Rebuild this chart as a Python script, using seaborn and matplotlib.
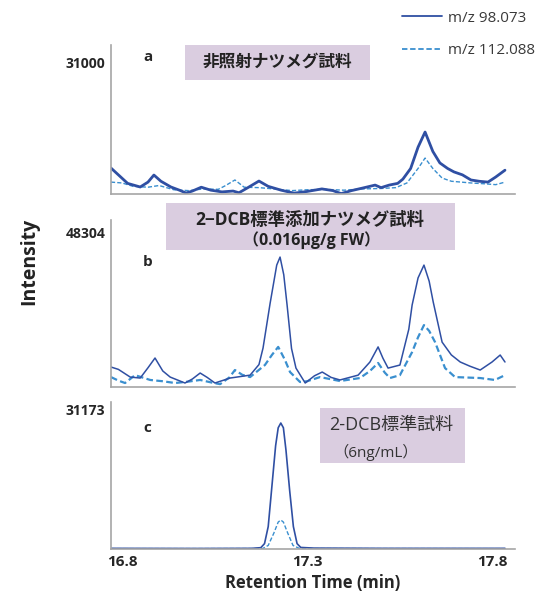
import matplotlib
matplotlib.use("Agg")
import matplotlib.pyplot as plt
from matplotlib.lines import Line2D
from matplotlib.patches import Rectangle
import seaborn as sns
import pandas as pd

# ---- data (time in min, intensity) ----
a_t_98 = [16.770, 16.790, 16.815, 16.849, 16.870, 16.886, 16.905, 16.932, 16.955, 16.973,
          16.990, 17.014, 17.040, 17.070, 17.100, 17.116, 17.140, 17.170, 17.195, 17.230,
          17.265, 17.300, 17.340, 17.370, 17.392, 17.420, 17.450, 17.484, 17.500, 17.522,
          17.545, 17.559, 17.580, 17.600, 17.619, 17.640, 17.659, 17.680, 17.697, 17.720,
          17.743, 17.765, 17.789, 17.810, 17.835]
a_i_98 = [6100, 4500, 2500, 1650, 2800, 4460, 3000, 1650, 900, 230,
          700, 1600, 900, 500, 700, 300, 1500, 3050, 1800, 900,
          200, 600, 1200, 800, 100, 800, 1400, 2100, 1500, 2100,
          2500, 3500, 6000, 11000, 14560, 10000, 7300, 6000, 5200, 4500,
          3300, 3000, 2800, 4000, 5600]
a_t_112 = [16.770, 16.800, 16.830, 16.870, 16.900, 16.940, 16.980, 17.020, 17.060, 17.080,
           17.105, 17.130, 17.170, 17.210, 17.260, 17.300, 17.350, 17.400, 17.450, 17.500,
           17.540, 17.570, 17.600, 17.619, 17.640, 17.665, 17.690, 17.743, 17.780, 17.810,
           17.835]
a_i_112 = [2800, 2600, 1800, 1600, 2000, 1000, 800, 1200, 1100, 2000,
           3300, 1600, 1500, 1200, 800, 1000, 1100, 900, 1200, 1300,
           1500, 2600, 6000, 8450, 6000, 3750, 3000, 2600, 2400, 2200,
           2800]

b_t_98 = [16.770, 16.790, 16.822, 16.849, 16.870, 16.889, 16.910, 16.930, 16.970, 16.990,
          17.011, 17.030, 17.051, 17.092, 17.146, 17.170, 17.181, 17.200, 17.218, 17.227,
          17.237, 17.246, 17.258, 17.270, 17.295, 17.320, 17.341, 17.365, 17.389, 17.438,
          17.470, 17.492, 17.505, 17.519, 17.551, 17.575, 17.584, 17.600, 17.616, 17.630,
          17.641, 17.665, 17.690, 17.714, 17.740, 17.768, 17.800, 17.822, 17.835]
b_i_98 = [6230, 5500, 3100, 2800, 6000, 9040, 5000, 3100, 1250, 2500,
          4360, 3000, 1250, 2800, 3700, 7000, 12150, 26000, 38000, 40500,
          35000, 25550, 12000, 5900, 1250, 3500, 4670, 3000, 2200, 3700,
          7800, 12500, 9000, 5900, 6850, 18000, 25550, 34000, 38000, 33000,
          26500, 14000, 10000, 7800, 6500, 5300, 7800, 9970, 7800]
b_t_112 = [16.770, 16.790, 16.808, 16.835, 16.876, 16.910, 16.943, 16.980, 17.011, 17.050,
           17.065, 17.090, 17.105, 17.125, 17.146, 17.186, 17.205, 17.222, 17.240, 17.254,
           17.281, 17.300, 17.335, 17.389, 17.443, 17.470, 17.492, 17.510, 17.524, 17.551,
           17.584, 17.600, 17.616, 17.630, 17.646, 17.673, 17.700, 17.768, 17.808, 17.835]
b_i_112 = [3100, 2000, 1250, 3700, 2200, 1800, 1250, 1700, 2200, 1200,
           900, 3000, 5300, 3800, 3100, 6850, 10000, 12500, 8500, 4670,
           1560, 1800, 3100, 1870, 2800, 5000, 7500, 4500, 2800, 3700,
           10900, 15500, 19300, 17500, 14000, 5900, 3100, 2800, 2200, 3700]

c_t_98 = [16.770, 17.000, 17.150, 17.175, 17.185, 17.195, 17.205, 17.215, 17.222, 17.229,
          17.236, 17.243, 17.253, 17.263, 17.273, 17.283, 17.320, 17.500, 17.835]
c_i_98 = [150, 120, 150, 300, 1200, 5000, 14000, 23000, 27000, 28050,
          27000, 22000, 13000, 5000, 1200, 350, 200, 150, 150]
c_t_112 = [16.770, 17.180, 17.195, 17.210, 17.222, 17.229, 17.236, 17.248, 17.262, 17.280, 17.835]
c_i_112 = [80, 100, 800, 3500, 6000, 6460, 6000, 3500, 800, 100, 80]

panel_letters = ["a", "b", "c"]
panel_max = [31000, 48304, 31173]
title_a = "非照射ナツメグ試料"
title_b = ["2−DCB標準添加ナツメグ試料", "（0.016μg/g FW）"]
title_c = ["2-DCB標準試料", "（6ng/mL）"]
x_ticks = [16.8, 17.3, 17.8]
series_names = ["m/z 98.073", "m/z 112.088"]

# ---- styling ----
sns.set_theme(style="white")
plt.rcParams["font.family"] = ["Open Sans", "Noto Sans CJK JP", "DejaVu Sans"]

c98 = "#2f4fa3"
c112 = "#3a8fcf"
box_col = "#dacde0"
spine_col = "#a6a6a6"

fig = plt.figure(figsize=(5.38, 6.02), dpi=100)
ax_rects = [
    [0.2063, 0.6777, 0.7509, 0.2475],
    [0.2063, 0.3571, 0.7509, 0.2774],
    [0.2063, 0.0880, 0.7509, 0.2442],
]
ytop_factor = [149 / 132, 167 / 155, 147 / 140]

data = [
    (a_t_98, a_i_98, a_t_112, a_i_112),
    (b_t_98, b_i_98, b_t_112, b_i_112),
    (c_t_98, c_i_98, c_t_112, c_i_112),
]
lw98 = [2.0, 1.1, 1.2]
lw112 = [1.0, 1.6, 1.0]
letter_y = [0.92, 0.749, 0.823]

axes = []
for k in range(3):
    ax = fig.add_axes(ax_rects[k])
    t98, i98, t112, i112 = data[k]
    df98 = pd.DataFrame({"time": t98, "intensity": i98})
    df112 = pd.DataFrame({"time": t112, "intensity": i112})
    sns.lineplot(data=df112, x="time", y="intensity", ax=ax, color=c112,
                 linewidth=lw112[k], linestyle=(0, (3, 1.5)))
    sns.lineplot(data=df98, x="time", y="intensity", ax=ax, color=c98,
                 linewidth=lw98[k])
    ax.set_xlim(16.770, 17.862)
    ax.set_ylim(0, panel_max[k] * ytop_factor[k])
    ax.set_yticks([panel_max[k]])
    ax.set_yticklabels([str(panel_max[k])], fontsize=10, fontweight="bold")
    ax.tick_params(axis="y", length=0, pad=4)
    if k == 2:
        ax.set_xticks(x_ticks)
        ax.set_xticklabels([str(v) for v in x_ticks], fontsize=11, fontweight="bold")
        ax.tick_params(axis="x", length=0, pad=4)
        ax.set_xlabel("Retention Time (min)", fontsize=12, fontweight="bold", labelpad=4)
    else:
        ax.set_xticks([])
        ax.set_xlabel("")
    ax.set_ylabel("")
    for s in ["top", "right"]:
        ax.spines[s].set_visible(False)
    for s in ["left", "bottom"]:
        ax.spines[s].set_color(spine_col)
        ax.spines[s].set_linewidth(1.2)
    ax.text(0.079, letter_y[k], panel_letters[k], transform=ax.transAxes,
            fontsize=11, fontweight="bold", va="center")
    axes.append(ax)

# sample label boxes
ax = axes[0]
ax.add_patch(Rectangle((0.183, 0.765), 0.458, 0.235, transform=ax.transAxes,
                       fc=box_col, ec="none", clip_on=False, zorder=3))
ax.text(0.413, 0.886, title_a, transform=ax.transAxes, ha="center", va="center",
        fontsize=12, fontweight="bold", color="#222222", zorder=4)

ax = axes[1]
ax.add_patch(Rectangle((0.136, 0.820), 0.715, 0.282, transform=ax.transAxes,
                       fc=box_col, ec="none", clip_on=False, zorder=3))
ax.text(0.493, 1.0, title_b[0], transform=ax.transAxes, ha="center", va="center",
        fontsize=12.5, fontweight="bold", color="#222222", zorder=4)
ax.text(0.497, 0.880, title_b[1], transform=ax.transAxes, ha="center", va="center",
        fontsize=11.5, fontweight="bold", color="#222222", zorder=4)

ax = axes[2]
ax.add_patch(Rectangle((0.517, 0.585), 0.359, 0.374, transform=ax.transAxes,
                       fc=box_col, ec="none", clip_on=False, zorder=3))
ax.text(0.694, 0.844, title_c[0], transform=ax.transAxes, ha="center", va="center",
        fontsize=13, color="#333333", zorder=4)
ax.text(0.656, 0.660, title_c[1], transform=ax.transAxes, ha="center", va="center",
        fontsize=11, color="#333333", zorder=4)

fig.text(0.055, 0.565, "Intensity", rotation=90, ha="center", va="center",
         fontsize=14, fontweight="bold", color="#222222")

handles = [Line2D([], [], color=c98, linewidth=1.3),
           Line2D([], [], color=c112, linewidth=1.3, linestyle=(0, (3, 1.5)))]
leg = fig.legend(handles, series_names, loc="upper right", bbox_to_anchor=(1.02, 1.005),
                 frameon=False, fontsize=11, labelspacing=1.15, handlelength=2.6,
                 handletextpad=0.4)
for t in leg.get_texts():
    t.set_color("#3a3a3a")

fig.savefig("out.png", dpi=100)
